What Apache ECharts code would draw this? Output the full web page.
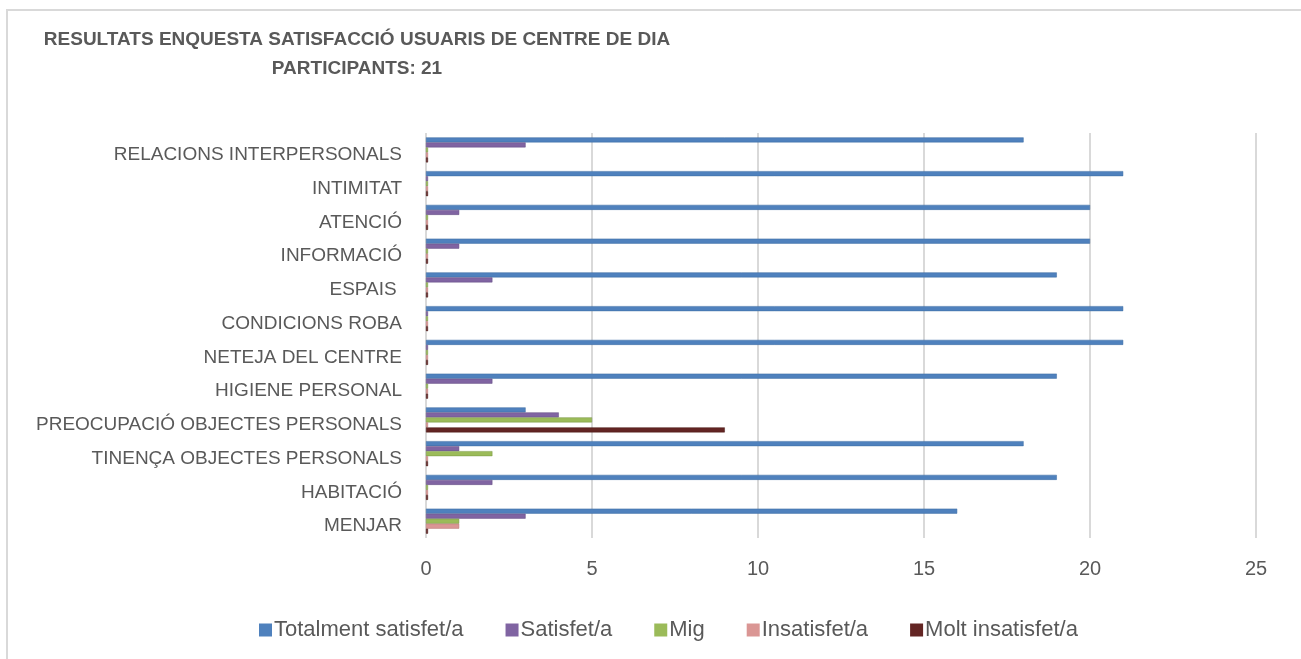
<!DOCTYPE html>
<html>
<head>
<meta charset="utf-8">
<script src="https://cdn.jsdelivr.net/npm/echarts@6/dist/echarts.min.js"></script>
<style>
  html, body { margin: 0; padding: 0; background: #fff; }
  #chart { width: 1301px; height: 659px; }
</style>
</head>
<body>
<div id="chart"></div>
<script>
  // categories from bottom to top, as Excel draws them
  var categories = [
    'MENJAR',
    'HABITACIÓ',
    'TINENÇA OBJECTES PERSONALS',
    'PREOCUPACIÓ OBJECTES PERSONALS',
    'HIGIENE PERSONAL',
    'NETEJA DEL CENTRE',
    'CONDICIONS ROBA',
    'ESPAIS ',
    'INFORMACIÓ',
    'ATENCIÓ',
    'INTIMITAT',
    'RELACIONS INTERPERSONALS'
  ]
  var totalment = [16, 19, 18, 3, 19, 21, 21, 19, 20, 20, 21, 18]
  var satisfet = [3, 2, 1, 4, 2, 0, 0, 2, 1, 1, 0, 3]
  var mig = [1, 0, 2, 5, 0, 0, 0, 0, 0, 0, 0, 0]
  var insatisfet = [1, 0, 0, 0, 0, 0, 0, 0, 0, 0, 0, 0]
  var moltInsatisfet = [0, 0, 0, 9, 0, 0, 0, 0, 0, 0, 0, 0]
  var xTicks = [0, 25, 5] // min, max, interval

  var seriesDefs = [
    {name: 'Totalment satisfet/a', data: totalment, color: '#4f81bd', edge: '#3b6aa0'},
    {name: 'Satisfet/a', data: satisfet, color: '#8064a2', edge: '#634d80'},
    {name: 'Mig', data: mig, color: '#9bbb59', edge: '#779443'},
    {name: 'Insatisfet/a', data: insatisfet, color: '#da9694', edge: '#b87674'},
    {name: 'Molt insatisfet/a', data: moltInsatisfet, color: '#632523', edge: '#4a1a19'}
  ]

  var chart = echarts.init(document.getElementById('chart'))
  chart.setOption({
    animation: false,
    textStyle: {fontFamily: 'Liberation Sans'},
    graphic: [{
      type: 'rect',
      shape: {x: 7, y: 10, width: 1400, height: 800},
      style: {fill: 'none', stroke: '#d9d9d9', lineWidth: 2},
      silent: true
    }],
    title: {
      text: 'RESULTATS ENQUESTA SATISFACCIÓ USUARIS DE CENTRE DE DIA\nPARTICIPANTS: 21',
      left: 352,
      top: 20,
      textAlign: 'center',
      textStyle: {
        fontSize: 19,
        fontWeight: 'bold',
        color: '#595959',
        lineHeight: 29
      }
    },
    legend: {
      top: 614,
      left: 254,
      icon: 'rect',
      itemWidth: 13,
      itemHeight: 13,
      itemGap: 42,
      itemStyle: {borderWidth: 0},
      textStyle: {fontSize: 22, color: '#595959', padding: [0, 0, 0, -3]}
    },
    grid: {
      left: 426,
      right: 45,
      top: 133,
      bottom: 121
    },
    xAxis: {
      type: 'value',
      min: xTicks[0],
      max: xTicks[1],
      interval: xTicks[2],
      axisLine: {show: false},
      axisTick: {show: false},
      axisLabel: {fontSize: 20, color: '#595959', margin: 21},
      splitLine: {lineStyle: {color: '#d9d9d9', width: 2}}
    },
    yAxis: {
      type: 'category',
      data: categories,
      axisLine: {show: false},
      axisTick: {show: false},
      axisLabel: {
        margin: 24,
        formatter: function (v) { return '{a|' + v + '}' },
        rich: {a: {fontSize: 19, color: '#595959', padding: [10, 0, 0, 0]}}
      }
    },
    series: seriesDefs.map(function (s) {
      return {
        name: s.name,
        type: 'bar',
        data: s.data,
        barWidth: 5,
        barGap: '0%',
        barMinHeight: 2, // excel still draws a thin cap for zero values
        itemStyle: {color: s.color, borderColor: s.edge, borderWidth: 0.5}
      }
    })
  })
</script>
</body>
</html>
